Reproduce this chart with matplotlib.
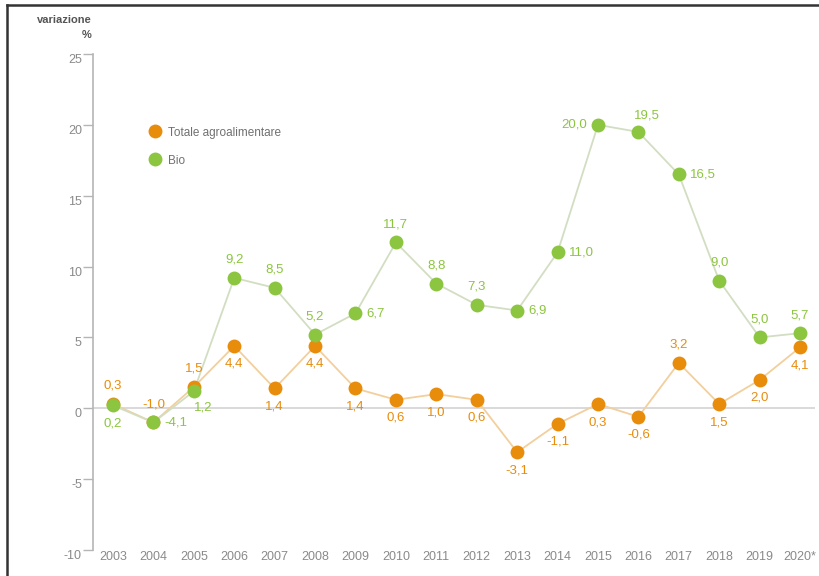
import matplotlib.pyplot as plt
from matplotlib.lines import Line2D

plt.rcParams['font.family'] = ['Liberation Sans', 'DejaVu Sans']
plt.rcParams['axes.unicode_minus'] = False

# Data
years = ['2003', '2004', '2005', '2006', '2007', '2008', '2009', '2010', '2011',
         '2012', '2013', '2014', '2015', '2016', '2017', '2018', '2019', '2020*']

totale = [0.3, -1.0, 1.5, 4.4, 1.4, 4.4, 1.4, 0.6, 1.0,
          0.6, -3.1, -1.1, 0.3, -0.6, 3.2, 0.3, 2.0, 4.3]
totale_labels = ['0,3', '-1,0', '1,5', '4,4', '1,4', '4,4', '1,4', '0,6', '1,0',
                 '0,6', '-3,1', '-1,1', '0,3', '-0,6', '3,2', '1,5', '2,0', '4,1']

bio = [0.2, -1.0, 1.2, 9.2, 8.5, 5.2, 6.7, 11.7, 8.8,
       7.3, 6.9, 11.0, 20.0, 19.5, 16.5, 9.0, 5.0, 5.3]
bio_labels = ['0,2', '-4,1', '1,2', '9,2', '8,5', '5,2', '6,7', '11,7', '8,8',
              '7,3', '6,9', '11,0', '20,0', '19,5', '16,5', '9,0', '5,0', '5,7']

# label placement: a=above, b=below, r=right, l=left
totale_pos = ['a', 'a', 'a', 'b', 'b', 'b', 'b', 'b', 'b',
              'b', 'b', 'b', 'b', 'b', 'a', 'b', 'b', 'b']
bio_pos = ['b', 'r', 'br', 'a', 'a', 'a', 'r', 'a', 'a',
           'a', 'r', 'r', 'l', 'ar', 'r', 'a', 'a', 'a']

orange = '#e88c0c'
green = '#8cc540'
offsets = {'a': (0, 13), 'b': (0, -13), 'r': (13, 0), 'l': (-14, 0),
           'br': (7, -12), 'ar': (6, 12)}

fig = plt.figure(figsize=(8.2, 5.76), dpi=100)
ax = fig.add_axes([93/820, 26/576, (815-93)/820, (550-54)/576])

x = list(range(len(years)))

ax.axhline(0, color='#cfcfcf', lw=1.1, zorder=1)

ax.plot(x, totale, color='#f2cf9c', lw=1.3, zorder=2)
ax.plot(x, bio, color='#d2dec2', lw=1.3, zorder=2)
ax.plot(x, totale, 'o', color=orange, ms=10, mec='none', zorder=3)
ax.plot(x, bio, 'o', color=green, ms=10, mec='none', zorder=4)

for xi, v, lab, p in zip(x, totale, totale_labels, totale_pos):
    ax.annotate(lab, (xi, v), xytext=offsets[p], textcoords='offset points',
                ha='center', va='center', fontsize=9.5, color=orange, zorder=5)
for xi, v, lab, p in zip(x, bio, bio_labels, bio_pos):
    ha = 'center'
    if p == 'r':
        ha = 'left'
        off = (8, 0)
    elif p == 'l':
        ha = 'right'
        off = (-8, 0)
    else:
        off = offsets[p]
    ax.annotate(lab, (xi, v), xytext=off, textcoords='offset points',
                ha=ha, va='center', fontsize=9.5, color=green, zorder=5)

ax.set_xlim(-0.495, 17.37)
ax.set_ylim(-10, 25)
ax.set_yticks([-10, -5, 0, 5, 10, 15, 20, 25])
ax.set_xticks(x)
ax.set_xticklabels(years)

for s in ['top', 'right', 'bottom']:
    ax.spines[s].set_visible(False)
ax.spines['left'].set_color('#b5b5b5')
ax.spines['left'].set_linewidth(1.2)
ax.tick_params(axis='y', direction='out', length=7, width=1, color='#b5b5b5',
               labelcolor='#8a8a8a', labelsize=9, pad=1)
ax.tick_params(axis='x', length=0, labelcolor='#8a8a8a', labelsize=9, pad=1)
for t in ax.get_yticklabels():
    t.set_va('top')

legend_elements = [Line2D([0], [0], marker='o', ls='', color=orange, ms=10, mec='none',
                          label='Totale agroalimentare'),
                   Line2D([0], [0], marker='o', ls='', color=green, ms=10, mec='none',
                          label='Bio')]
fig.legend(handles=legend_elements, loc='upper left', bbox_to_anchor=(138/820, 1 - 116/576),
           frameon=False, fontsize=8.5, labelcolor='#707070', labelspacing=1.35,
           handletextpad=0.6, handlelength=1.0)

fig.text(92/820, 1 - 20/576, 'variazione', ha='right', va='center', fontsize=8,
         fontweight='bold', color='#555555')
fig.text(92/820, 1 - 35/576, '%', ha='right', va='center', fontsize=8,
         fontweight='bold', color='#555555')

# frame on top and left
fig.add_artist(Line2D([7/820, 1], [1 - 5/576, 1 - 5/576], color='#333333', lw=1.8,
                      transform=fig.transFigure))
fig.add_artist(Line2D([7/820, 7/820], [0, 1 - 5/576], color='#333333', lw=1.8,
                      transform=fig.transFigure))

fig.savefig('out.png', dpi=100, facecolor='white')
